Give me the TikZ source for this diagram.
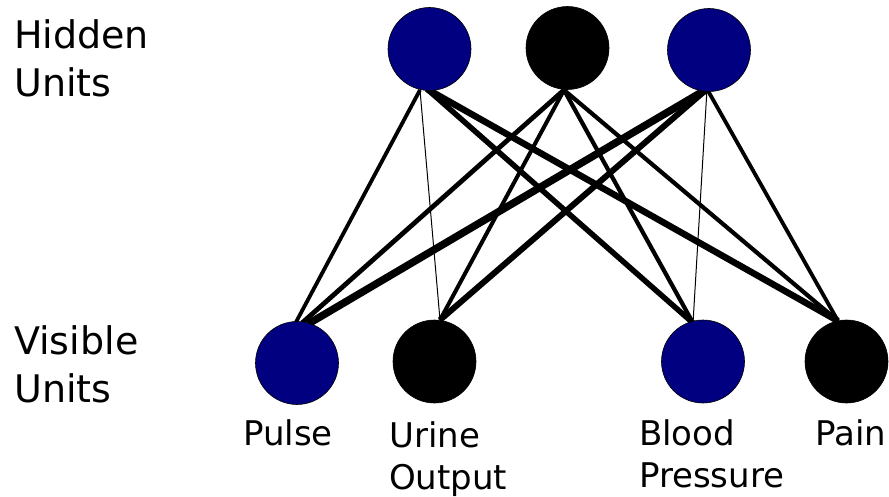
\documentclass[tikz,border=0pt]{standalone}
\usepackage{fontspec}
\setmainfont{DejaVu Sans}
\usetikzlibrary{backgrounds}
\definecolor{unitblue}{HTML}{000080}
\tikzset{
  unit/.style={circle, draw=black, line width=0.6pt, minimum size=83pt, inner sep=0pt},
  hiddenblue/.style={unit, fill=unitblue},
  hiddenblack/.style={unit, fill=black},
  layerlabel/.style={anchor=base west, inner sep=0pt, align=left,
    font=\fontsize{38}{48}\selectfont},
  varlabel/.style={anchor=base west, inner sep=0pt, align=left,
    font=\fontsize{34}{42}\selectfont},
  wire/.style={draw=black, line cap=butt}
}
\begin{document}
\begin{tikzpicture}[x=1pt, y=-1pt]
  \useasboundingbox (0,0) rectangle (889,497);

  % hidden layer
  \node[hiddenblue]  (h1) at (429.5,49) {};
  \node[hiddenblack] (h2) at (567.5,48) {};
  \node[hiddenblue]  (h3) at (709,50) {};

  % visible layer
  \node[hiddenblue]  (pulse) at (297,363) {};
  \node[hiddenblack] (urine) at (434.5,361.5) {};
  \node[hiddenblue]  (blood) at (703,361.5) {};
  \node[hiddenblack] (pain)  at (846.5,361.5) {};

  % attachment points of the weights on the units
  \coordinate (h1l) at (420,90);
  \coordinate (h1r) at (427,89);
  \coordinate (h2o) at (564,90);
  \coordinate (h3o) at (707,89);
  \coordinate (pa) at (295,324);
  \coordinate (pb) at (302,323);
  \coordinate (pc) at (308,324);
  \coordinate (uo) at (440,320);
  \coordinate (bo) at (693,323);
  \coordinate (no) at (838,321);

  % weighted connections, thickness ~ weight
  \begin{scope}[on background layer]
    \draw[wire, line width=3.8pt] (h1l) -- (pa);
    \draw[wire, line width=1pt]   (h1l) -- (uo);
    \draw[wire, line width=5.5pt] (h1r) -- (bo);
    \draw[wire, line width=6.5pt] (h1r) -- (no);
    \draw[wire, line width=4.8pt] (h2o) -- (pb);
    \draw[wire, line width=4pt]   (h2o) -- (uo);
    \draw[wire, line width=4.2pt] (h2o) -- (bo);
    \draw[wire, line width=4.2pt] (h2o) -- (no);
    \draw[wire, line width=7.5pt] (h3o) -- (pc);
    \draw[wire, line width=6pt]   (h3o) -- (uo);
    \draw[wire, line width=1pt]   (h3o) -- (bo);
    \draw[wire, line width=3.8pt] (h3o) -- (no);
  \end{scope}

  % layer labels (anchored on the baseline of the last line)
  \node[layerlabel] (hl) at (14,97) {Hidden\\Units};
  \node[layerlabel] (vl) at (14,402) {Visible\\Units};

  % variable labels
  \node[varlabel] (lp) at (243,445) {Pulse};
  \node[varlabel] (lu) at (389,489) {Urine\\Output};
  \node[varlabel] (lb) at (639,487) {Blood\\Pressure};
  \node[varlabel] (ln) at (815,445) {Pain};
\end{tikzpicture}
\end{document}
